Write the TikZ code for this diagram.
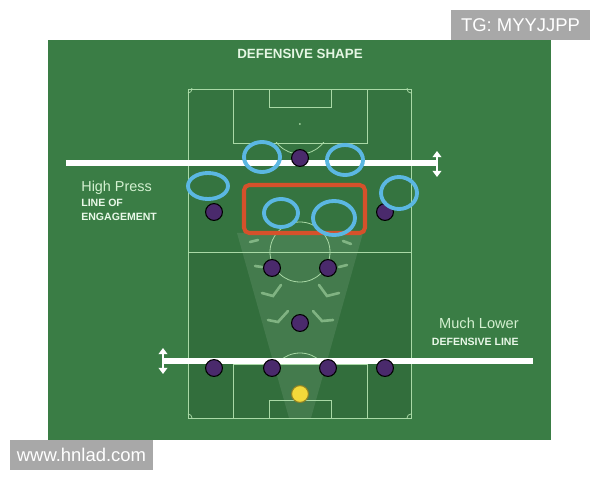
\documentclass[tikz,border=0pt]{standalone}
\usepackage{fontspec}
\setmainfont{Liberation Sans}
\usetikzlibrary{arrows.meta}

\definecolor{grass}{HTML}{3A7D45}
\definecolor{mint}{HTML}{D3F0D0}
\definecolor{pitchwhite}{HTML}{A9D9A6}
\definecolor{plum}{HTML}{4A2A6C}
\definecolor{ringblue}{HTML}{5BB7E2}
\definecolor{boxred}{HTML}{D5512B}
\definecolor{keeper}{HTML}{F2D93A}
\definecolor{wmgray}{HTML}{A8A8A8}

\begin{document}
\begin{tikzpicture}[x=0.02cm, y=-0.02cm,
  every node/.style={inner sep=0pt, text=mint},
  player/.style={draw=black, circle, fill=plum, minimum size=9.6pt, line width=0.6pt},
  ring/.style={draw=ringblue, line width=2.2pt},
  pitchline/.style={draw=pitchwhite, line width=0.45pt},
  chev/.style={draw=pitchwhite, line width=1.5pt, opacity=0.6, line cap=round},
  holdline/.style={draw=white, line width=3.3pt},
  slide/.style={draw=white, line width=1.3pt, {Triangle[width=5pt,length=3.5pt]}-{Triangle[width=5pt,length=3.5pt]}},
  stamp/.style={fill=wmgray, text=white, font=\fontsize{10.5}{12}\selectfont}]
  \useasboundingbox (0,0) rectangle (600,480);

  % board and pitch
  \fill[grass] (48,40) rectangle (551,440);
  \fill[black, opacity=0.07] (188,89) rectangle (411,418);
  \fill[black, opacity=0.05] (188,252) rectangle (411,418);
  \fill[white, opacity=0.09] (289,418) -- (311,418) -- (363,233) -- (237,233) -- cycle;

  \draw[pitchline] (188,89) rectangle (411,418);
  \draw[pitchline] (188,252) -- (411,252);
  \draw[pitchline] (300,252) circle[radius=30];
  \draw[pitchline] (233,89) rectangle (367,143);
  \draw[pitchline] (269,89) rectangle (331,107);
  \draw[pitchline] (233,364) rectangle (367,418);
  \draw[pitchline] (269,400) rectangle (331,418);
  \fill[pitchwhite] (300,124) circle[radius=1];
  \begin{scope}
    \clip (233,143) rectangle (367,170);
    \draw[pitchline] (300,124) circle[radius=30];
  \end{scope}
  \begin{scope}
    \clip (233,340) rectangle (367,364);
    \draw[pitchline] (300,383) circle[radius=30];
  \end{scope}
  \begin{scope}
    \clip (188,89) rectangle (411,418);
    \foreach \cx/\cy in {188/89, 411/89, 188/418, 411/418}
      \draw[pitchline] (\cx,\cy) circle[radius=4];
  \end{scope}

  % movement marks
  \draw[chev] (262,293) -- (273,296) -- (281,285);
  \draw[chev] (319,285) -- (327,296) -- (339,293);
  \draw[chev] (268,320) -- (278,322) -- (288,311);
  \draw[chev] (313,311) -- (322,321) -- (333,320);
  \draw[chev] (255,266) -- (262,267);
  \draw[chev] (339,267) -- (347,265);
  \draw[chev] (250,242) -- (258,240);
  \draw[chev] (343,241) -- (351,244);

  % lines of engagement and defence
  \coordinate (highL) at (66,163);
  \coordinate (highR) at (437,163);
  \coordinate (lowL) at (163,361);
  \coordinate (lowR) at (533,361);
  \draw[holdline] (highL) -- (highR);
  \draw[holdline] (lowL) -- (lowR);
  \draw[slide] (437,151) -- (437,177);
  \draw[slide] (163,348) -- (163,374);

  % players
  \node[player] (st)  at (300,158) {};
  \node[player] (lw)  at (214,212) {};
  \node[player] (rw)  at (385,212) {};
  \node[player] (lcm) at (272,268) {};
  \node[player] (rcm) at (328,268) {};
  \node[player] (dm)  at (300,323) {};
  \node[player] (lb)  at (214,368) {};
  \node[player] (lcb) at (272,368) {};
  \node[player] (rcb) at (328,368) {};
  \node[player] (rb)  at (385,368) {};
  \node[player, fill=keeper, draw=keeper!60!black] (gk) at (300,394) {};

  % pressing zone
  \draw[boxred, line width=2.3pt, rounded corners=3pt] (244,185) rectangle (365,233);
  \draw[ring] (262,157) ellipse[x radius=18, y radius=15];
  \draw[ring] (345,160) ellipse[x radius=18, y radius=15];
  \draw[ring] (208,186) ellipse[x radius=20, y radius=13];
  \draw[ring] (399,193) ellipse[x radius=18, y radius=16];
  \draw[ring] (281,213) ellipse[x radius=17, y radius=14];
  \draw[ring] (334,218) ellipse[x radius=21, y radius=17];

  % labels
  \node[anchor=base, font=\fontsize{7.6}{9}\selectfont\bfseries, text=mint!60!white] (title) at (300,58.5) {DEFENSIVE SHAPE};
  \node[anchor=base west, font=\fontsize{8.2}{10}\selectfont] (press) at (81,192) {High Press};
  \node[anchor=base west, font=\fontsize{6}{8}\selectfont\bfseries, text=mint!50!white] (engage) at (81,207) {LINE OF};
  \node[anchor=base west, font=\fontsize{6}{8}\selectfont\bfseries, text=mint!50!white] (engage2) at (81,221) {ENGAGEMENT};
  \node[anchor=base east, font=\fontsize{8.3}{10}\selectfont] (lower) at (519,329) {Much Lower};
  \node[anchor=base east, font=\fontsize{6}{8}\selectfont\bfseries, text=mint!50!white] (defline) at (519,346) {DEFENSIVE LINE};

  % watermarks
  \fill[wmgray] (451,10) rectangle (590,40);
  \node[stamp] (tg) at (520.5,25) {TG: MYYJJPP};
  \fill[wmgray] (10,440) rectangle (153,470);
  \node[stamp] (web) at (81.5,455) {www.hnlad.com};
\end{tikzpicture}
\end{document}
